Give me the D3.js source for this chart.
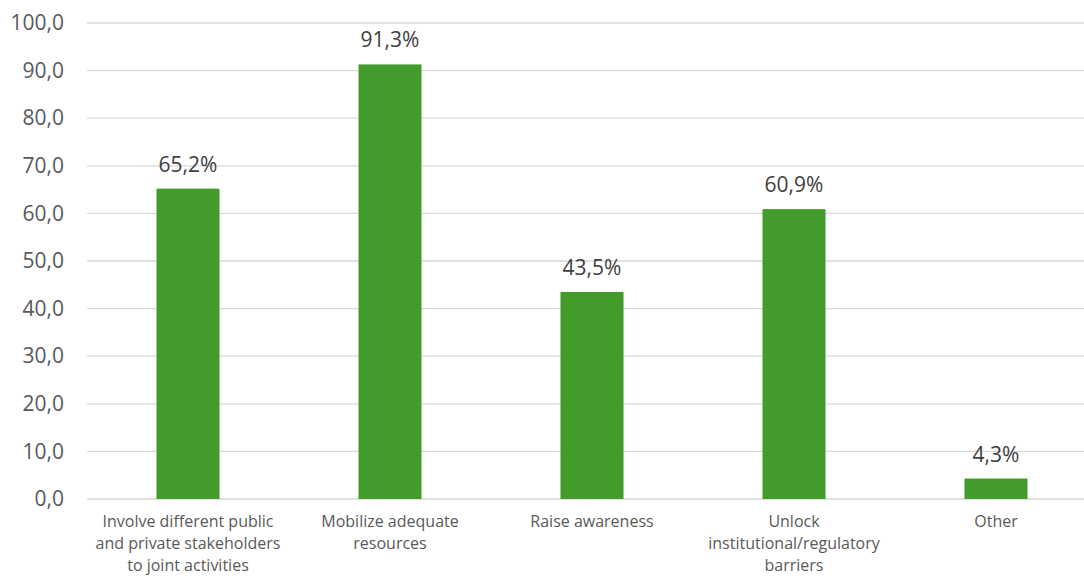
<!DOCTYPE html>
<html>
<head>
<meta charset="utf-8">
<script src="https://cdn.jsdelivr.net/npm/d3@7"></script>
<style>
  html, body { margin: 0; padding: 0; background: #fff; }
  svg { display: block; font-family: "Open Sans", "Noto Sans", sans-serif; }
</style>
</head>
<body>
<svg id="chart" width="1084" height="576"></svg>
<script>
// Survey results: share of respondents per category (%)
const categories = [
  "Involve different public and private stakeholders to joint activities",
  "Mobilize adequate resources",
  "Raise awareness",
  "Unlock institutional/regulatory barriers",
  "Other"
];
const categoryLines = [
  ["Involve different public", "and private stakeholders", "to joint activities"],
  ["Mobilize adequate", "resources"],
  ["Raise awareness"],
  ["Unlock", "institutional/regulatory", "barriers"],
  ["Other"]
];
const values = [65.2, 91.3, 43.5, 60.9, 4.3];
const yTicks = [0, 10, 20, 30, 40, 50, 60, 70, 80, 90, 100];

const svg = d3.select("#chart");
const fmtTick = v => v.toFixed(1).replace(".", ",");
const fmtLabel = v => v.toFixed(1).replace(".", ",") + "%";

const x = d3.scaleBand()
  .domain(categories)
  .range([87, 1097])
  .paddingInner(0.688)
  .paddingOuter(0.344);

const y = d3.scaleLinear().domain([0, 100]).range([499, 23]);

// Horizontal gridlines
svg.append("g")
  .selectAll("line")
  .data(yTicks)
  .join("line")
  .attr("x1", 87)
  .attr("x2", 1084)
  .attr("y1", d => y(d))
  .attr("y2", d => y(d))
  .attr("stroke", "#d9d9d9")
  .attr("stroke-width", 1.3);

// Y axis labels
const yAxis = d3.axisLeft(y).tickValues(yTicks).tickFormat(fmtTick).tickSize(0).tickPadding(0);
const yg = svg.append("g").attr("transform", "translate(64,0)").call(yAxis);
yg.select(".domain").remove();
yg.selectAll("text")
  .attr("fill", "#595959")
  .attr("font-size", "21px")
  .attr("font-family", "'Open Sans', sans-serif");

// Bars
svg.append("g")
  .selectAll("rect")
  .data(values)
  .join("rect")
  .attr("x", (d, i) => x(categories[i]))
  .attr("y", d => y(d))
  .attr("width", x.bandwidth())
  .attr("height", d => y(0) - y(d))
  .attr("fill", "#429b2b");

// Value labels
svg.append("g")
  .selectAll("text")
  .data(values)
  .join("text")
  .attr("x", (d, i) => x(categories[i]) + x.bandwidth() / 2)
  .attr("y", d => y(d) - 17)
  .attr("text-anchor", "middle")
  .attr("fill", "#404040")
  .attr("font-size", "21px")
  .text(fmtLabel);

// Category labels
const cg = svg.append("g");
categories.forEach((c, i) => {
  const t = cg.append("text")
    .attr("text-anchor", "middle")
    .attr("fill", "#595959")
    .attr("font-size", "16px");
  categoryLines[i].forEach((line, j) => {
    t.append("tspan")
      .attr("x", x(c) + x.bandwidth() / 2)
      .attr("y", 527 + j * 22)
      .text(line);
  });
});
</script>
</body>
</html>
